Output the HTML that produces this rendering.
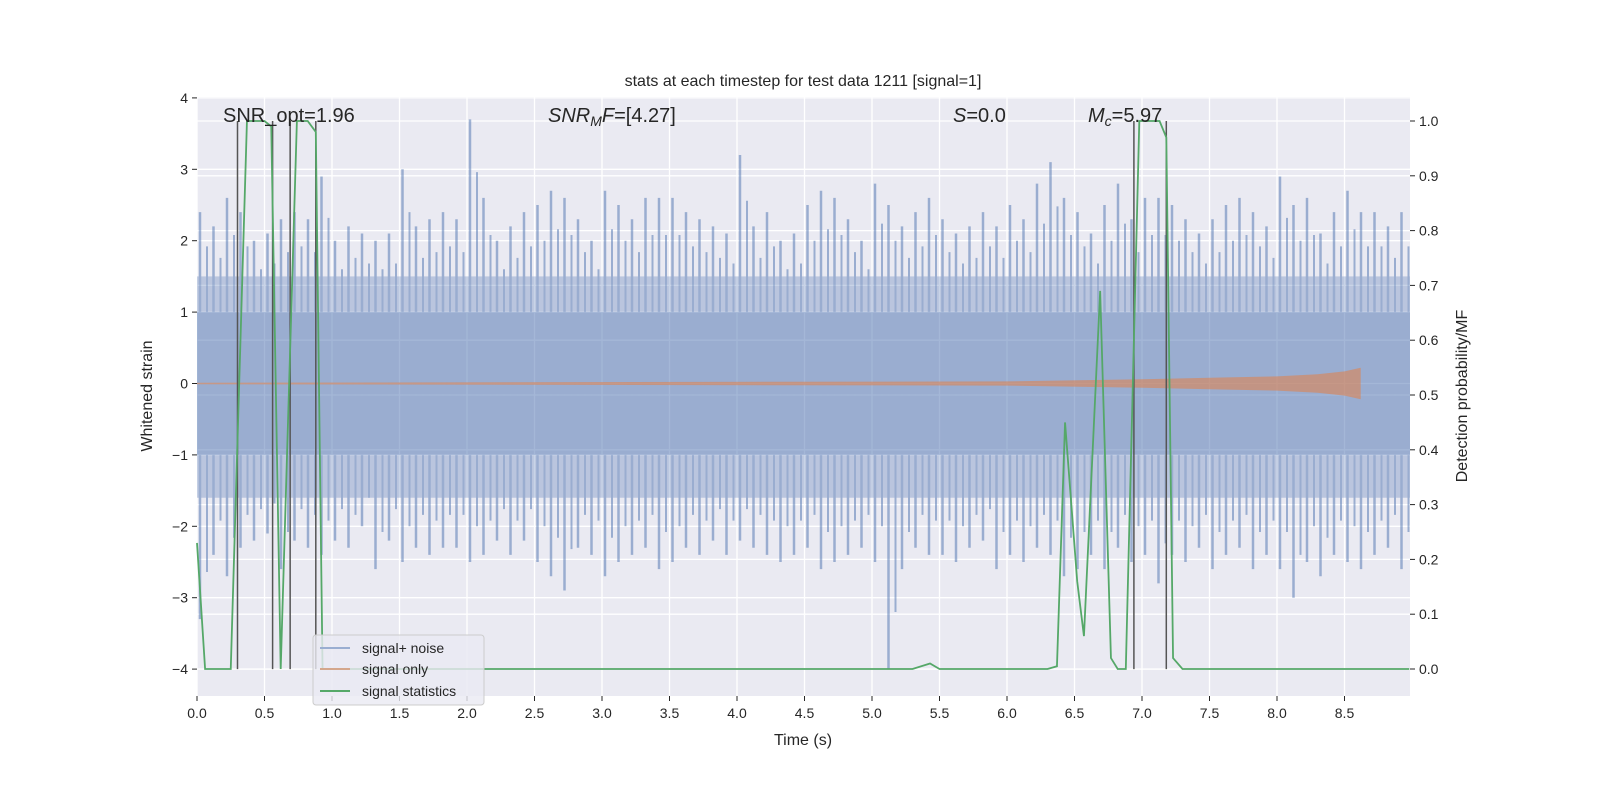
<!DOCTYPE html>
<html><head><meta charset="utf-8"><style>
body{margin:0;background:#fff;}
svg text{font-family:"Liberation Sans","DejaVu Sans",sans-serif;fill:#262626;}
</style></head><body>
<svg id="c" width="1600" height="800" xmlns="http://www.w3.org/2000/svg"></svg>
<script>
const leftTicks=[-4,-3,-2,-1,0,1,2,3,4];
const rightTicks=[0.0,0.1,0.2,0.3,0.4,0.5,0.6,0.7,0.8,0.9,1.0];
const xTicks=[0,0.5,1,1.5,2,2.5,3,3.5,4,4.5,5,5.5,6,6.5,7,7.5,8,8.5];
const noiseTimes=[0,0.1,0.2,0.3,0.4,0.5,0.6,0.7,0.8,0.9,1,1.1,1.2,1.3,1.4,1.5,1.6,1.7,1.8,1.9,2,2.1,2.2,2.3,2.4,2.5,2.6,2.7,2.8,2.9,3,3.1,3.2,3.3,3.4,3.5,3.6,3.7,3.8,3.9,4,4.1,4.2,4.3,4.4,4.5,4.6,4.7,4.8,4.9,5,5.1,5.2,5.3,5.4,5.5,5.6,5.7,5.8,5.9,6,6.1,6.2,6.3,6.4,6.5,6.6,6.7,6.8,6.9,7,7.1,7.2,7.3,7.4,7.5,7.6,7.7,7.8,7.9,8,8.1,8.2,8.3,8.4,8.5,8.6,8.7,8.8,8.9];
const noiseTops=[2.4,2.2,2.6,2.4,2.0,2.1,2.3,2.4,2.3,2.9,2.0,2.2,2.1,2.0,2.1,3.0,2.2,2.3,2.4,2.3,3.7,2.6,2.0,2.2,2.4,2.5,2.7,2.6,2.3,2.0,2.7,2.5,2.3,2.6,2.6,2.6,2.4,2.3,2.2,2.1,3.2,2.2,2.4,2.0,2.1,2.5,2.7,2.6,2.3,2.0,2.8,2.5,2.2,2.4,2.6,2.3,2.1,2.2,2.4,2.2,2.5,2.3,2.8,3.1,2.6,2.4,2.1,2.5,2.8,2.3,2.6,2.6,2.5,2.3,2.1,2.3,2.5,2.6,2.4,2.2,2.9,2.5,2.6,2.1,2.4,2.7,2.4,2.4,2.2,2.4];
const noiseBottoms=[-3.3,-2.4,-2.7,-2.3,-2.2,-2.1,-2.6,-2.2,-2.3,-2.4,-2.2,-2.3,-2.0,-2.6,-2.2,-2.5,-2.3,-2.4,-2.3,-2.3,-2.5,-2.4,-2.2,-2.4,-2.2,-2.5,-2.7,-2.9,-2.3,-2.4,-2.7,-2.5,-2.4,-2.3,-2.6,-2.5,-2.3,-2.4,-2.2,-2.4,-2.2,-2.3,-2.4,-2.5,-2.4,-2.3,-2.6,-2.5,-2.4,-2.3,-2.5,-4.0,-2.6,-2.3,-2.4,-2.4,-2.5,-2.3,-2.2,-2.6,-2.4,-2.5,-2.3,-2.4,-2.7,-2.6,-2.4,-2.6,-2.3,-2.5,-2.4,-2.8,-2.4,-2.5,-2.3,-2.6,-2.4,-2.3,-2.6,-2.4,-2.6,-3.0,-2.5,-2.7,-2.4,-2.5,-2.6,-2.4,-2.3,-2.6];
const signalTimes=[0,6,7,7.5,8,8.3,8.5,8.62];
const signalAmp=[0.01,0.03,0.06,0.08,0.1,0.13,0.17,0.22];
const statTimes=[0,0.06,0.25,0.37,0.5,0.55,0.62,0.74,0.82,0.88,0.93,5.3,5.43,5.5,6.3,6.37,6.43,6.52,6.57,6.69,6.77,6.82,6.88,6.98,7.13,7.18,7.23,7.3,8.98];
const statValues=[0.23,0,0,1.0,1.0,0.99,0,1.0,1.0,0.98,0,0,0.01,0,0,0.005,0.45,0.16,0.06,0.69,0.02,0,0,1.0,1.0,0.97,0.02,0,0];
const markerTimes=[0.3,0.56,0.69,0.88,6.94,7.18];

const X0=197,X1=1410,T=97,B=696;
const xs=t=>197+t*135;
const yl=v=>383.5-v*71.4;
const yr=p=>669-p*548;
const svg=document.getElementById('c');
const NS='http://www.w3.org/2000/svg';
function mk(tag,at,parent){const e=document.createElementNS(NS,tag);for(const k in at)e.setAttribute(k,at[k]);(parent||svg).appendChild(e);return e;}

let bg=mk('rect',{x:X0,y:T,width:X1-X0,height:B-T,fill:'#eaeaf2'});


const grid=mk('g',{stroke:'#fff','stroke-width':1.3});


xTicks.forEach(t=>mk('line',{x1:xs(t),x2:xs(t),y1:T,y2:B},grid));
leftTicks.forEach(v=>mk('line',{x1:X0,x2:X1,y1:yl(v),y2:yl(v)},grid));
rightTicks.forEach(v=>mk('line',{x1:X0,x2:X1,y1:yr(v),y2:yr(v)},grid));

// noise
const ng=mk('g',{opacity:0.5});


mk('rect',{x:X0,y:yl(1.0),width:X1-X0,height:yl(-1.0)-yl(1.0),fill:'#4c72b0'},ng);
mk('rect',{x:X0,y:yl(1.5),width:X1-X0,height:yl(-1.6)-yl(1.5),fill:'#4c72b0',opacity:0.6},ng);
noiseTimes.forEach((t,i)=>{
  const x=Math.min(xs(t)+3,X1-2);
  mk('line',{x1:x,x2:x,y1:yl(noiseTops[i]),y2:yl(noiseBottoms[i]),stroke:'#4c72b0','stroke-width':2.5},ng);
  mk('line',{x1:x+7,x2:x+7,y1:yl(noiseTops[i]*0.8),y2:yl(noiseBottoms[i]*0.8),stroke:'#4c72b0','stroke-width':2},ng);
});
// signal
let up=signalTimes.map((t,i)=>xs(t)+','+yl(signalAmp[i])).join(' ');
let dn=signalTimes.slice().reverse().map((t,i,a)=>xs(t)+','+yl(-signalAmp[a.length-1-i])).join(' ');
let sp=mk('polygon',{points:up+' '+dn,fill:'#dd8452',opacity:0.6});


// markers
markerTimes.forEach(t=>{let l=mk('line',{x1:xs(t),x2:xs(t),y1:yr(1.0),y2:yl(-4),stroke:'#555','stroke-width':1.5});

});
// stats
let st=mk('polyline',{points:statTimes.map((t,i)=>xs(t)+','+yr(statValues[i])).join(' '),fill:'none',stroke:'#55a868','stroke-width':1.8});



// ticks labels
leftTicks.forEach(v=>{mk('line',{x1:X0-5,x2:X0,y1:yl(v),y2:yl(v),stroke:'#262626'});
let t=mk('text',{x:X0-9,y:yl(v)+5,'font-size':14,'text-anchor':'end'});t.textContent=(v<0?'\u2212'+(-v):v);});
rightTicks.forEach(v=>{mk('line',{x1:X1,x2:X1+5,y1:yr(v),y2:yr(v),stroke:'#262626'});
let t=mk('text',{x:X1+9,y:yr(v)+5,'font-size':14});t.textContent=v.toFixed(1);});
xTicks.forEach(v=>{mk('line',{x1:xs(v),x2:xs(v),y1:B,y2:B+5,stroke:'#262626'});
let t=mk('text',{x:xs(v),y:B+22,'font-size':14,'text-anchor':'middle'});t.textContent=v.toFixed(1);});
</script>
<svg width="1600" height="800" style="position:absolute;left:0;top:0" xmlns="http://www.w3.org/2000/svg">
<text x="803" y="86" font-size="16" text-anchor="middle">stats at each timestep for test data 1211 [signal=1]</text>
<text x="803" y="745" font-size="16" text-anchor="middle">Time (s)</text>
<text transform="translate(152,396) rotate(-90)" font-size="16" text-anchor="middle">Whitened strain</text>
<text transform="translate(1467,396) rotate(-90)" font-size="16" text-anchor="middle">Detection probability/MF</text>
<text x="223" y="122" font-size="20">SNR_opt=1.96</text>
<text x="548" y="122" font-size="20"><tspan font-style="italic">SNR</tspan><tspan font-style="italic" font-size="14" dy="4">M</tspan><tspan font-style="italic" dy="-4">F</tspan>=[4.27]</text>
<text x="953" y="122" font-size="20"><tspan font-style="italic">S</tspan>=0.0</text>
<text x="1088" y="122" font-size="20"><tspan font-style="italic">M</tspan><tspan font-style="italic" font-size="14" dy="4">c</tspan><tspan dy="-4">=5.97</tspan></text>
<g>
<rect x="313" y="635" width="171" height="70" rx="3" fill="#eaeaf2" fill-opacity="0.8" stroke="#ccc"/>
<line x1="320" x2="350" y1="648" y2="648" stroke="#9aaed1" stroke-width="2"/>
<text x="362" y="653" font-size="14">signal+ noise</text>
<line x1="320" x2="350" y1="669" y2="669" stroke="#d4a78c" stroke-width="2"/>
<text x="362" y="674" font-size="14">signal only</text>
<line x1="320" x2="350" y1="691" y2="691" stroke="#55a868" stroke-width="2"/>
<text x="362" y="696" font-size="14">signal statistics</text>
</g>
</svg>
</body></html>
